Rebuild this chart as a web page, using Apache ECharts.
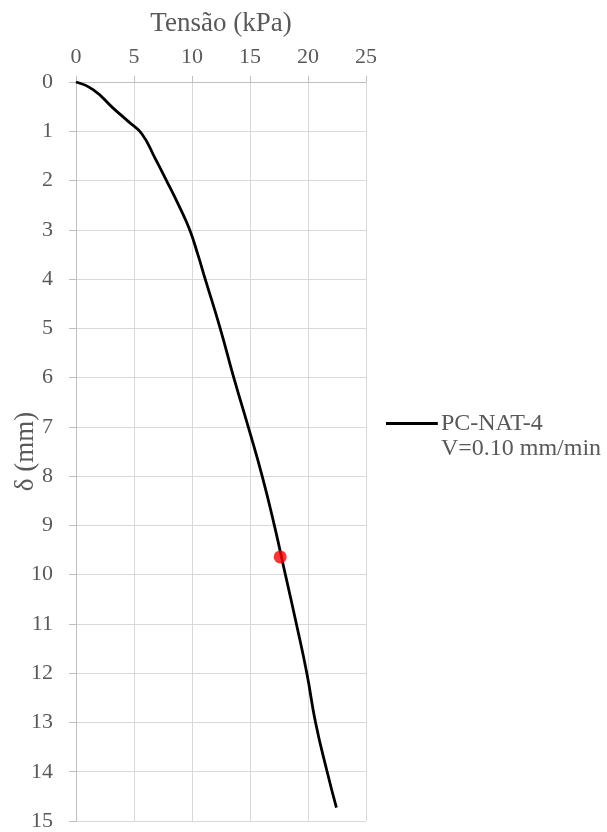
<!DOCTYPE html>
<html>
<head>
<meta charset="utf-8">
<script src="https://cdn.jsdelivr.net/npm/echarts@6/dist/echarts.min.js"></script>
<style>
  html, body { margin: 0; padding: 0; background: #fff; }
  #chart { width: 607px; height: 832px; }
</style>
</head>
<body>
<div id="chart"></div>
<script>
// curva tensão x deslocamento
const tensao = [0, 1.5, 3.2, 4.5, 5.67, 6.8, 7.8, 8.85, 9.8, 10.5, 11.14, 12.43, 13.6, 14.85, 16.05, 17.1, 18.05, 19.0, 19.9, 20.65, 21.65, 22.45];
const delta = [0, 0.16, 0.53, 0.8, 1.05, 1.54, 2, 2.5, 3, 3.5, 4, 5, 6, 7, 8, 9, 10, 11, 12, 13, 14, 14.73];
const pontoRuptura = [17.6, 9.64];
const serieNome = 'PC-NAT-4';
const serieLegenda = 'PC-NAT-4\nV=0.10 mm/min';

const textColor = '#595959';
const fonte = '"Liberation Serif", "Times New Roman", serif';

const chart = echarts.init(document.getElementById('chart'));
const option = {
  animation: false,
  grid: { left: 76, right: 241, top: 82, bottom: 9 },
  legend: {
    data: [serieNome],
    left: 386,
    top: 411,
    padding: 0,
    orient: 'vertical',
    itemWidth: 52,
    itemHeight: 28,
    icon: 'path://M0,0 h52 v3 h-52 Z M0,28 h0.1 v0.1 h-0.1 Z',
    formatter: () => serieLegenda,
    textStyle: { color: textColor, fontFamily: fonte, fontSize: 24, lineHeight: 25, padding: [0, 0, 0, -2] }
  },
  xAxis: {
    type: 'value',
    position: 'top',
    min: 0, max: 25, interval: 5,
    name: 'Tensão (kPa)',
    nameLocation: 'middle',
    nameGap: 45,
    nameMoveOverlap: false,
    nameTextStyle: { color: textColor, fontFamily: fonte, fontSize: 27 },
    axisLine: { show: true, lineStyle: { color: '#bfbfbf', width: 1 } },
    axisTick: { show: true, length: 6, lineStyle: { color: '#bfbfbf' } },
    axisLabel: { color: textColor, fontFamily: fonte, fontSize: 22, margin: 14 },
    splitLine: { show: true, lineStyle: { color: '#d9d9d9', width: 1 } }
  },
  yAxis: {
    type: 'value',
    inverse: true,
    min: 0, max: 15, interval: 1,
    name: 'δ (mm)',
    nameLocation: 'middle',
    nameGap: 37,
    nameMoveOverlap: false,
    nameRotate: 90,
    nameTextStyle: { color: textColor, fontFamily: fonte, fontSize: 27 },
    axisLine: { show: true, lineStyle: { color: '#bfbfbf', width: 1 } },
    axisTick: { show: true, length: 7, lineStyle: { color: '#bfbfbf' } },
    axisLabel: { color: textColor, fontFamily: fonte, fontSize: 22, margin: 23 },
    splitLine: { show: true, lineStyle: { color: '#d9d9d9', width: 1 } }
  },
  series: [
    {
      name: serieNome,
      type: 'line',
      data: tensao.map((t, i) => [t, delta[i]]),
      smooth: 0.5,
      showSymbol: false,
      color: '#000',
      lineStyle: { color: '#000', width: 2.8 }
    },
    {
      name: 'ruptura',
      type: 'scatter',
      data: [pontoRuptura],
      symbolSize: 13,
      itemStyle: { color: '#ff0000' },
      z: 5
    }
  ]
};
chart.setOption(option);
</script>
</body>
</html>
